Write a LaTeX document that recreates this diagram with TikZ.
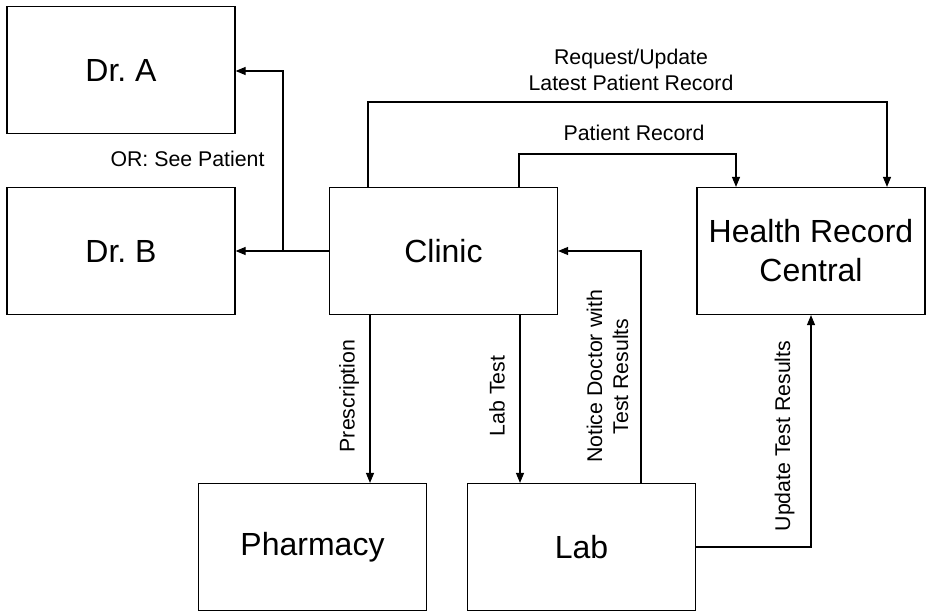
\documentclass[tikz,border=0pt]{standalone}
\usepackage{fontspec}
\setmainfont{Liberation Sans}
\usetikzlibrary{arrows.meta}
\frenchspacing

\begin{document}
\begin{tikzpicture}[x=1pt, y=-1pt,
  box/.style={draw=black, line width=1.2pt, minimum width=228pt, minimum height=127pt,
    inner sep=0pt, align=center, font=\fontsize{32}{39}\selectfont},
  lbl/.style={inner sep=0pt, align=center, font=\fontsize{21.3}{26}\selectfont},
  vlbl/.style={lbl, rotate=90},
  flow/.style={line width=1.2pt, -{Triangle[length=10pt,width=8pt]}},
  wire/.style={line width=1.2pt}
]
\useasboundingbox (0,0) rectangle (926,612);

% boxes
\node[box] (dra)      at (121,70)    {Dr. A};
\node[box] (drb)      at (121,251)   {Dr. B};
\node[box] (clinic)   at (443.5,251) {Clinic};
\node[box] (hrc)      at (811,251)   {Health Record\\Central};
\node[box] (pharmacy) at (312.5,547) {Pharmacy};
\node[box] (lab)      at (581.5,547) {Lab};

% bend points
\coordinate (split) at (283,251);
\coordinate (splitA) at (283,71);
\coordinate (reqL) at (368,102);
\coordinate (reqR) at (887,102);
\coordinate (recL) at (519,154);
\coordinate (recR) at (736,154);
\coordinate (presc) at (370,400);
\coordinate (test) at (520,400);
\coordinate (notice) at (641,251);
\coordinate (upd) at (811,547);

% clinic to doctors
\draw[wire] (clinic.west) -- (split);
\draw[flow] (split) -- (drb.east |- split);
\draw[flow] (split) -- (splitA) -- (dra.east |- splitA);

% clinic to health record central
\draw[flow] (clinic.north -| reqL) -- (reqL) -- (reqR) -- (hrc.north -| reqR);
\draw[flow] (clinic.north -| recL) -- (recL) -- (recR) -- (hrc.north -| recR);

% clinic to pharmacy and lab
\draw[flow] (clinic.south -| presc) -- (pharmacy.north -| presc);
\draw[flow] (clinic.south -| test) -- (lab.north -| test);

% lab back to clinic and to health record central
\draw[flow] (lab.north -| notice) -- (notice) -- (clinic.east);
\draw[flow] (lab.east) -- (upd) -- (hrc.south -| upd);

% labels
\node[lbl] (lorsee) at (187.5,159) {OR: See Patient};
\node[lbl] (lreq) at (631,69.5) {Request/Update\\Latest Patient Record};
\node[lbl] (lrec) at (634,133) {Patient Record};
\node[vlbl] (lpresc) at (349,396) {Prescription};
\node[vlbl] (ltest) at (497,396) {Lab Test};
\node[vlbl] (lnotice) at (607.5,376.5) {Notice Doctor with\\Test Results};
\node[vlbl] (lupd) at (784.5,436) {Update Test Results};
\end{tikzpicture}
\end{document}
